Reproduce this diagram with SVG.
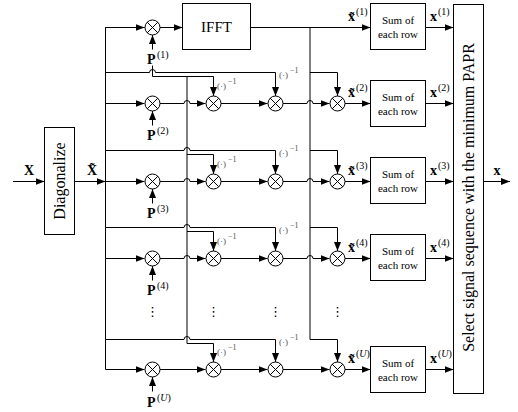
<svg xmlns="http://www.w3.org/2000/svg" xmlns:xlink="http://www.w3.org/1999/xlink" width="518" height="412" viewBox="0 0 518 412">
<style>
text{font-family:"Liberation Serif","Times New Roman","DejaVu Serif",serif;fill:#000}
.box{fill:#fff;stroke:#000;stroke-width:1}
.ln{fill:none;stroke:#000;stroke-width:1}
.gv{fill:none;stroke:#000;stroke-width:1}
.ar{marker-end:url(#arr)}
.b{font-weight:bold;font-size:14px}
.sup{font-size:10px}
.inv{font-size:9px;fill:#555}
.invs{font-size:8px;fill:#555}
.sum{font-size:11px;text-anchor:middle}
.dots{font-size:13px;text-anchor:middle;font-family:"DejaVu Sans",sans-serif}
</style>
<defs>
<marker id="arr" markerUnits="userSpaceOnUse" markerWidth="9" markerHeight="7" refX="9" refY="3.5" orient="auto">
<path d="M0,0 L9,3.5 L0,7 z" fill="#000"/>
</marker>
<g id="mulsym">
<circle r="7.5" fill="#fff" stroke="#000" stroke-width="1"/>
<path d="M-5.3,-5.3 L5.3,5.3 M-5.3,5.3 L5.3,-5.3" stroke="#000" stroke-width="1"/>
</g>
</defs>
<rect width="518" height="412" fill="#fff"/>

<g id="connectors">
<!-- input and bus -->
<path class="ln ar" d="M13,181.5 H44.5"/>
<path class="ln ar" d="M74.5,181.5 H105.5"/>
<path class="ln" d="M144.5,27.5 H105.5 V369.5"/>
<path class="ln ar" d="M105.5,27.5 H144.5"/>
<!-- row 1 -->
<path class="ln ar" d="M160,27.5 H182.5"/>
<path class="ln ar" d="M250.5,27.5 H370.5"/>
<path class="ln ar" d="M425.5,27.5 H453.5"/>
<path class="ln ar" d="M152.5,49.5 V35"/>
<!-- verticals -->
<path class="gv" d="M187,76.5 V343.5"/>
<path class="gv" d="M310,27.5 V339.5"/>
<!-- row 2 -->
<path class="ln ar" d="M105.5,103.5 H144.5"/>
<path class="ln ar" d="M160,103.5 H184 A3,3 0 0 1 190,103.5 H205.5"/>
<path class="ln ar" d="M221,103.5 H267.5"/>
<path class="ln ar" d="M283,103.5 H307 A3,3 0 0 1 313,103.5 H329.5"/>
<path class="ln ar" d="M345,103.5 H370.5"/>
<path class="ln ar" d="M425.5,103.5 H453.5"/>
<path class="ln ar" d="M152.5,125.5 V111"/>
<path class="ln ar" d="M105.5,72.5 H149.5 A3,3 0 0 1 155.5,72.5 H275.5 V96"/>
<path class="ln ar" d="M152.5,65.5 V76.5 H213.5 V96"/>
<path class="ln ar" d="M310,72.5 H337.5 V96"/>
<!-- row 3 -->
<path class="ln ar" d="M105.5,181.5 H144.5"/>
<path class="ln ar" d="M160,181.5 H184 A3,3 0 0 1 190,181.5 H205.5"/>
<path class="ln ar" d="M221,181.5 H267.5"/>
<path class="ln ar" d="M283,181.5 H307 A3,3 0 0 1 313,181.5 H329.5"/>
<path class="ln ar" d="M345,181.5 H370.5"/>
<path class="ln ar" d="M425.5,181.5 H453.5"/>
<path class="ln ar" d="M152.5,203.5 V189"/>
<path class="ln ar" d="M105.5,150.5 H184 A3,3 0 0 1 190,150.5 H275.5 V174"/>
<path class="ln ar" d="M187,154.5 H213.5 V174"/>
<path class="ln ar" d="M310,150.5 H337.5 V174"/>
<!-- row 4 -->
<path class="ln ar" d="M105.5,258.5 H144.5"/>
<path class="ln ar" d="M160,258.5 H184 A3,3 0 0 1 190,258.5 H205.5"/>
<path class="ln ar" d="M221,258.5 H267.5"/>
<path class="ln ar" d="M283,258.5 H307 A3,3 0 0 1 313,258.5 H329.5"/>
<path class="ln ar" d="M345,258.5 H370.5"/>
<path class="ln ar" d="M425.5,258.5 H453.5"/>
<path class="ln ar" d="M152.5,280.5 V266"/>
<path class="ln ar" d="M105.5,227.5 H184 A3,3 0 0 1 190,227.5 H275.5 V251"/>
<path class="ln ar" d="M187,231.5 H213.5 V251"/>
<path class="ln ar" d="M310,227.5 H337.5 V251"/>
<!-- row U -->
<path class="ln ar" d="M160,369.5 H205.5"/>
<path class="ln ar" d="M105.5,369.5 H144.5"/>
<path class="ln ar" d="M221,369.5 H267.5"/>
<path class="ln ar" d="M283,369.5 H329.5"/>
<path class="ln ar" d="M345,369.5 H370.5"/>
<path class="ln ar" d="M425.5,369.5 H453.5"/>
<path class="ln ar" d="M152.5,391.5 V377"/>
<path class="ln ar" d="M105.5,339.5 H184 A3,3 0 0 1 190,339.5 H275.5 V362"/>
<path class="ln ar" d="M187,343.5 H213.5 V362"/>
<path class="ln ar" d="M310,339.5 H337.5 V362"/>
<!-- output -->
<path class="ln ar" d="M483.5,181.5 H510"/>
</g>

<g id="input-label"><text class="b" x="29" y="175" text-anchor="middle">X</text></g>
<g id="diagonalize">
<rect class="box" x="44.5" y="127.5" width="30" height="107"/>
<text transform="translate(65,181) rotate(-90)" font-size="16" text-anchor="middle">Diagonalize</text>
</g>
<g id="xt-label"><text class="b" x="92" y="175" text-anchor="middle">X&#771;</text></g>

<g id="ifft">
<rect class="box" x="182.5" y="3.5" width="68" height="46"/>
<text x="216.5" y="32" font-size="15" text-anchor="middle">IFFT</text>
</g>

<!-- multipliers -->
<g id="mul-1"><use xlink:href="#mulsym" x="152.5" y="27.5"/></g>
<g id="mul-2-1"><use xlink:href="#mulsym" x="152.5" y="103.5"/></g>
<g id="mul-2-2"><use xlink:href="#mulsym" x="213.5" y="103.5"/></g>
<g id="mul-2-3"><use xlink:href="#mulsym" x="275.5" y="103.5"/></g>
<g id="mul-2-4"><use xlink:href="#mulsym" x="337.5" y="103.5"/></g>
<g id="mul-3-1"><use xlink:href="#mulsym" x="152.5" y="181.5"/></g>
<g id="mul-3-2"><use xlink:href="#mulsym" x="213.5" y="181.5"/></g>
<g id="mul-3-3"><use xlink:href="#mulsym" x="275.5" y="181.5"/></g>
<g id="mul-3-4"><use xlink:href="#mulsym" x="337.5" y="181.5"/></g>
<g id="mul-4-1"><use xlink:href="#mulsym" x="152.5" y="258.5"/></g>
<g id="mul-4-2"><use xlink:href="#mulsym" x="213.5" y="258.5"/></g>
<g id="mul-4-3"><use xlink:href="#mulsym" x="275.5" y="258.5"/></g>
<g id="mul-4-4"><use xlink:href="#mulsym" x="337.5" y="258.5"/></g>
<g id="mul-U-1"><use xlink:href="#mulsym" x="152.5" y="369.5"/></g>
<g id="mul-U-2"><use xlink:href="#mulsym" x="213.5" y="369.5"/></g>
<g id="mul-U-3"><use xlink:href="#mulsym" x="275.5" y="369.5"/></g>
<g id="mul-U-4"><use xlink:href="#mulsym" x="337.5" y="369.5"/></g>

<!-- P labels -->
<g id="p1"><text class="b" x="147" y="64">P</text><text class="sup" x="157" y="58">(1)</text></g>
<g id="p2"><text class="b" x="147" y="140">P</text><text class="sup" x="157" y="134">(2)</text></g>
<g id="p3"><text class="b" x="147" y="218">P</text><text class="sup" x="157" y="212">(3)</text></g>
<g id="p4"><text class="b" x="147" y="295">P</text><text class="sup" x="157" y="289">(4)</text></g>
<g id="pU"><text class="b" x="147" y="407">P</text><text class="sup" x="157" y="401">(<tspan font-style="italic">U</tspan>)</text></g>

<!-- inverse labels -->
<g id="inv-labels">
<text class="inv" x="217" y="89">(·)</text><text class="invs" x="228" y="84">−1</text>
<text class="inv" x="279" y="78">(·)</text><text class="invs" x="290" y="73">−1</text>
<text class="inv" x="217" y="167">(·)</text><text class="invs" x="228" y="162">−1</text>
<text class="inv" x="279" y="156">(·)</text><text class="invs" x="290" y="151">−1</text>
<text class="inv" x="217" y="244">(·)</text><text class="invs" x="228" y="239">−1</text>
<text class="inv" x="279" y="233">(·)</text><text class="invs" x="290" y="228">−1</text>
<text class="inv" x="217" y="355">(·)</text><text class="invs" x="228" y="350">−1</text>
<text class="inv" x="279" y="345">(·)</text><text class="invs" x="290" y="340">−1</text>
</g>

<!-- dots -->
<g id="dots">
<text class="dots" x="152.5" y="316">⋮</text>
<text class="dots" x="213.5" y="316">⋮</text>
<text class="dots" x="275.5" y="316">⋮</text>
<text class="dots" x="337.5" y="316">⋮</text>
</g>

<!-- x tilde labels -->
<g id="xt1"><text class="b" x="348" y="21">x&#771;</text><text class="sup" x="356" y="15">(1)</text></g>
<g id="xt2"><text class="b" x="348" y="97">x&#771;</text><text class="sup" x="356" y="91">(2)</text></g>
<g id="xt3"><text class="b" x="348" y="175">x&#771;</text><text class="sup" x="356" y="169">(3)</text></g>
<g id="xt4"><text class="b" x="348" y="252">x&#771;</text><text class="sup" x="356" y="246">(4)</text></g>
<g id="xtU"><text class="b" x="348" y="363">x&#771;</text><text class="sup" x="356" y="357">(<tspan font-style="italic">U</tspan>)</text></g>

<!-- sum boxes -->
<g id="sum1"><rect class="box" x="370.5" y="3.5" width="55" height="46"/><text class="sum" x="398" y="24">Sum of</text><text class="sum" x="398" y="38">each row</text></g>
<g id="sum2"><rect class="box" x="370.5" y="80.5" width="55" height="46"/><text class="sum" x="398" y="101">Sum of</text><text class="sum" x="398" y="115">each row</text></g>
<g id="sum3"><rect class="box" x="370.5" y="157.5" width="55" height="46"/><text class="sum" x="398" y="178">Sum of</text><text class="sum" x="398" y="192">each row</text></g>
<g id="sum4"><rect class="box" x="370.5" y="234.5" width="55" height="46"/><text class="sum" x="398" y="255">Sum of</text><text class="sum" x="398" y="269">each row</text></g>
<g id="sumU"><rect class="box" x="370.5" y="346.5" width="55" height="46"/><text class="sum" x="398" y="367">Sum of</text><text class="sum" x="398" y="381">each row</text></g>

<!-- x labels -->
<g id="x1"><text class="b" x="430" y="21">x</text><text class="sup" x="438" y="15">(1)</text></g>
<g id="x2"><text class="b" x="430" y="97">x</text><text class="sup" x="438" y="91">(2)</text></g>
<g id="x3"><text class="b" x="430" y="175">x</text><text class="sup" x="438" y="169">(3)</text></g>
<g id="x4"><text class="b" x="430" y="252">x</text><text class="sup" x="438" y="246">(4)</text></g>
<g id="xU"><text class="b" x="430" y="363">x</text><text class="sup" x="438" y="357">(<tspan font-style="italic">U</tspan>)</text></g>

<g id="select">
<rect class="box" x="453.5" y="4.5" width="30" height="389"/>
<text transform="translate(474,197.5) rotate(-90)" font-size="16" text-anchor="middle">Select signal sequence with the minimum PAPR</text>
</g>
<g id="out-label"><text class="b" x="497" y="175" text-anchor="middle">x</text></g>
</svg>
